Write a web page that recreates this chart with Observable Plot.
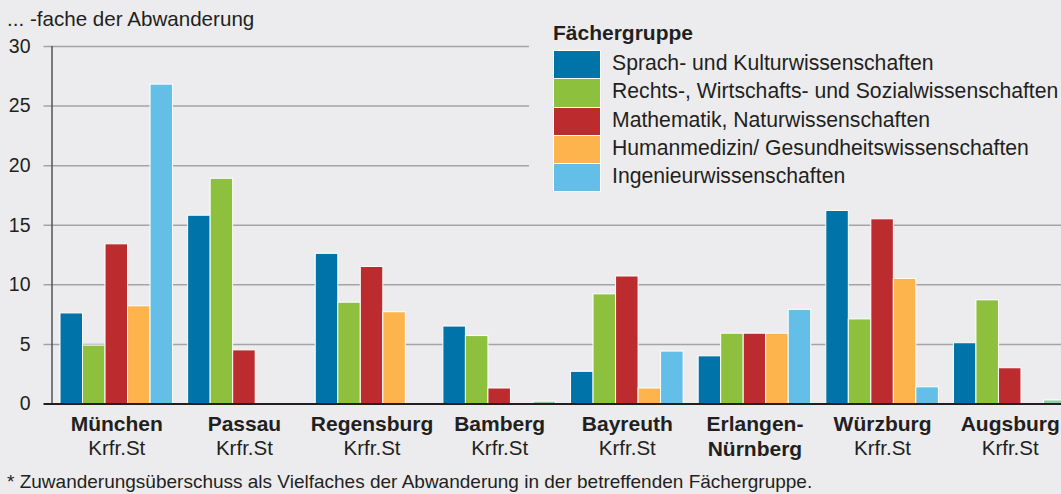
<!DOCTYPE html>
<html>
<head>
<meta charset="utf-8">
<script src="https://cdn.jsdelivr.net/npm/d3@7"></script>
<script src="https://cdn.jsdelivr.net/npm/@observablehq/plot@0.6"></script>
<style>
  html, body { margin: 0; padding: 0; background: #ececee; overflow: hidden; }
  body { font-family: "Liberation Sans", Arial, Helvetica, sans-serif; color: #231f20; }
  #wrap { position: relative; width: 1061px; height: 494px; overflow: hidden; background: #ececee; }
  #wrap svg { position: absolute; left: 0; top: 0; max-width: none; }
  .txt { position: absolute; white-space: nowrap; line-height: 1; }
</style>
</head>
<body>
<div id="wrap"></div>
<script>
// ---------- data ----------
const cities = ["München", "Passau", "Regensburg", "Bamberg", "Bayreuth", "Erlangen-Nürnberg", "Würzburg", "Augsburg"];
const labelTop = ["München", "Passau", "Regensburg", "Bamberg", "Bayreuth", "Erlangen-", "Würzburg", "Augsburg"];
const labelBottom = ["Krfr.St", "Krfr.St", "Krfr.St", "Krfr.St", "Krfr.St", "Nürnberg", "Krfr.St", "Krfr.St"];
const labelBottomBold = [false, false, false, false, false, true, false, false];

const groups = [
  "Sprach- und Kulturwissenschaften",
  "Rechts-, Wirtschafts- und Sozialwissenschaften",
  "Mathematik, Naturwissenschaften",
  "Humanmedizin/ Gesundheitswissenschaften",
  "Ingenieurwissenschaften"
];
const colors = ["#0073a8", "#8cc03d", "#bc2c2f", "#fdb44d", "#63bfe8"];

const sprach    = [7.6, 15.8, 12.6, 6.5, 2.7, 4.0, 16.2, 5.1];
const rechts    = [4.9, 18.9, 8.5, 5.7, 9.2, 5.9, 7.1, 8.7];
const mathe     = [13.4, 4.5, 11.5, 1.3, 10.7, 5.9, 15.5, 3.0];
const human     = [8.2, null, 7.7, null, 1.3, 5.9, 10.5, null];
const ingenieur = [26.8, null, null, 0.2, 4.4, 7.9, 1.4, 0.3];
// tiny Ingenieur bars that the source draws in a pale green
const ingenieurPale = [false, false, false, true, false, false, false, true];
const paleColor = "#8fd0a6";

const yTicks = [0, 5, 10, 15, 20, 25, 30];
const yTitle = "... -fache der Abwanderung";
const legendTitle = "Fächergruppe";
const footnote = "* Zuwanderungsüberschuss als Vielfaches der Abwanderung in der betreffenden Fächergruppe.";

// ---------- build rows ----------
const series = [sprach, rechts, mathe, human, ingenieur];
const rows = [];
cities.forEach((c, i) => {
  series.forEach((arr, j) => {
    const v = arr[i];
    if (v == null) return;
    rows.push({
      city: c, group: groups[j], value: v,
      color: (j === 4 && ingenieurPale[i]) ? paleColor : colors[j]
    });
  });
});
const labelRows = cities.map((c, i) => ({city: c, top: labelTop[i], bottom: labelBottom[i], bold: labelBottomBold[i]}));

// ---------- layout ----------
const W = 1066, H = 494;
const MT = 46, MB = 90.5;
const FONT = "'Liberation Sans', Arial, Helvetica, sans-serif";
const INK = "#231f20";

const wrap = document.getElementById("wrap");

// background: gridlines, axis line, tick labels
const bg = Plot.plot({
  width: W, height: H,
  marginLeft: 51.5, marginRight: 0, marginTop: MT, marginBottom: MB,
  x: {domain: [0, 1], axis: null},
  y: {domain: [0, 30], ticks: yTicks, tickSize: 0, tickPadding: 21.5, label: null},
  style: {background: "transparent", maxWidth: "none", fontFamily: FONT, fontSize: "19.5px", color: INK},
  marks: [
    Plot.ruleY(yTicks.filter(t => t > 0), {insetLeft: -8, stroke: "#a4a4a6", strokeWidth: 1.5}),
    Plot.ruleX([0], {stroke: "#4a4a4a", strokeWidth: 1.4})
  ]
});
wrap.appendChild(bg);

// foreground: grouped bars, baseline, category labels
const fg = Plot.plot({
  width: W, height: H,
  marginLeft: 60, marginRight: 0, marginTop: MT, marginBottom: MB,
  fx: {domain: cities, paddingInner: 0.118, paddingOuter: 0, round: false, axis: null, label: null},
  x: {domain: groups, padding: 0, round: false, axis: null},
  y: {domain: [0, 30], axis: null},
  color: {type: "identity"},
  style: {background: "transparent", maxWidth: "none", fontFamily: FONT, color: INK},
  marks: [
    Plot.barY(rows, {fx: "city", x: "group", y: "value", fill: "color", stroke: "white", strokeWidth: 1}),
    Plot.ruleY([0], {insetLeft: -16.5, insetRight: -8, stroke: INK, strokeWidth: 2}),
    Plot.text(labelRows, {fx: "city", text: "top", frameAnchor: "bottom", lineAnchor: "middle", dy: 19.8, fontWeight: "bold", fontSize: 21, fill: INK}),
    Plot.text(labelRows.filter(d => !d.bold), {fx: "city", text: "bottom", frameAnchor: "bottom", lineAnchor: "middle", dy: 44.8, fontSize: 20.5, fill: INK}),
    Plot.text(labelRows.filter(d => d.bold), {fx: "city", text: "bottom", frameAnchor: "bottom", lineAnchor: "middle", dy: 44.8, fontWeight: "bold", fontSize: 21, fill: INK})
  ]
});
wrap.appendChild(fg);

// ---------- texts & legend (HTML overlays) ----------
function addText(str, left, baseline, size, bold) {
  const d = document.createElement("div");
  d.className = "txt";
  d.textContent = str;
  d.style.left = left + "px";
  d.style.fontSize = size + "px";
  d.style.top = (baseline - 0.8465 * size) + "px";
  if (bold) d.style.fontWeight = "bold";
  wrap.appendChild(d);
  return d;
}

// legend panel hides gridlines behind it
const panel = document.createElement("div");
Object.assign(panel.style, {position: "absolute", left: "529px", top: "14px", width: "540px", height: "182px", background: "#ececee"});
wrap.appendChild(panel);

addText(legendTitle, 553, 40, 21, true);

const swBack = document.createElement("div");
Object.assign(swBack.style, {position: "absolute", left: "553px", top: "50px", width: "48px", height: (28.3 * groups.length + 0.5) + "px", background: "#ffffff"});
wrap.appendChild(swBack);
groups.forEach((g, i) => {
  const s = document.createElement("div");
  Object.assign(s.style, {
    position: "absolute", left: "554px", top: (51 + 28.3 * i) + "px",
    width: "46px", height: "27.3px", background: colors[i]
  });
  wrap.appendChild(s);
  addText(g, 612, 70 + 28.3 * i, 21.2, false);
});

addText(yTitle, 7, 26, 20.6, false);
addText(footnote, 7, 487.8, 19, false);
</script>
</body>
</html>
